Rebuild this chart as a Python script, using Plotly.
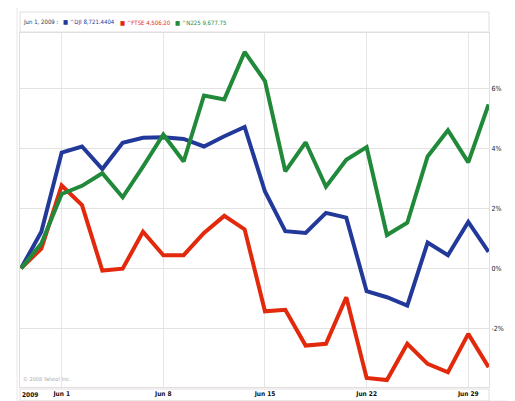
import plotly.graph_objects as go

# trading days shown on the chart (May 28 - Jun 30, 2009)
dates = ["May 28", "May 29",
         "Jun 1", "Jun 2", "Jun 3", "Jun 4", "Jun 5",
         "Jun 8", "Jun 9", "Jun 10", "Jun 11", "Jun 12",
         "Jun 15", "Jun 16", "Jun 17", "Jun 18", "Jun 19",
         "Jun 22", "Jun 23", "Jun 24", "Jun 25", "Jun 26",
         "Jun 29", "Jun 30"]

# % change since start
dji = [0.0, 1.22, 3.86, 4.06, 3.31, 4.18, 4.35, 4.37, 4.31, 4.06, 4.40, 4.71,
       2.56, 1.24, 1.18, 1.85, 1.69, -0.76, -0.96, -1.24, 0.86, 0.44, 1.55, 0.55]
ftse = [0.0, 0.66, 2.76, 2.11, -0.07, -0.01, 1.22, 0.44, 0.44, 1.18, 1.75, 1.30,
        -1.43, -1.38, -2.57, -2.51, -0.96, -3.65, -3.72, -2.51, -3.18, -3.46, -2.18, -3.29]
n225 = [0.0, 0.83, 2.48, 2.75, 3.17, 2.37, 3.39, 4.46, 3.56, 5.76, 5.63, 7.21,
        6.24, 3.23, 4.20, 2.72, 3.62, 4.04, 1.11, 1.52, 3.73, 4.60, 3.53, 5.46]

tick_dates = ["Jun 1", "Jun 8", "Jun 15", "Jun 22", "Jun 29"]
y_ticks = [-2, 0, 2, 4, 6]

names = ["^DJI", "^FTSE", "^N225"]
closes = ["8,721.4404", "4,506.20", "9,677.75"]
colors = ["#22399a", "#e2290c", "#21893a"]

fig = go.Figure()
for name, vals, col in zip(names, [dji, ftse, n225], colors):
    fig.add_trace(go.Scatter(x=dates, y=vals, mode="lines", name=name,
                             line=dict(color=col, width=4)))

font = "DejaVu Sans Condensed, Liberation Sans"

# the page body adds 8px around the figure, so margins are 8px smaller
fig.update_layout(
    width=515, height=401,
    margin=dict(l=12, r=34, t=25, b=22),
    paper_bgcolor="white", plot_bgcolor="white",
    showlegend=False,
    font=dict(family=font, size=7, color="#222"),
    xaxis=dict(type="category", range=[-0.05, 23.02], automargin=False,
               tickvals=tick_dates, ticktext=[f"<b>{d}</b>" for d in tick_dates],
               showgrid=True, gridcolor="#e6e6e6", gridwidth=1,
               showline=True, linecolor="#e2dede", mirror=True,
               zeroline=False, ticks="", ticklen=0,
               tickfont=dict(size=6.5, color="#111")),
    yaxis=dict(side="right", range=[-3.95, 7.84], automargin=False,
               tickvals=y_ticks, ticktext=[f"{v}%" for v in y_ticks],
               showgrid=True, gridcolor="#e2e2e2", gridwidth=1,
               showline=True, linecolor="#e2dede", mirror=True,
               zeroline=False, ticks="",
               tickfont=dict(size=7, color="#222")),
)

# frames around the chart, the legend strip and the date strip
def px_x(p):
    return (p - 20) / 469

def px_y(p):
    return (387 - p) / 354

fig.add_shape(type="rect", xref="paper", yref="paper",
              x0=px_x(17), x1=px_x(510), y0=px_y(401), y1=px_y(5),
              line=dict(color="#ebe6e8", width=1))
fig.add_shape(type="rect", xref="paper", yref="paper",
              x0=0, x1=1, y0=px_y(32), y1=px_y(12),
              line=dict(color="#e2dede", width=1))
fig.add_shape(type="rect", xref="paper", yref="paper",
              x0=0, x1=1, y0=px_y(401), y1=px_y(389),
              line=dict(color="#e2dede", width=1))

# year label at the start of the date strip
fig.add_annotation(x=px_x(20), y=px_y(395), xref="paper", yref="paper",
                   text="<b>2009</b>", showarrow=False, xanchor="left",
                   yanchor="middle", font=dict(size=6.5, color="#111"))

# legend line
fig.add_annotation(x=px_x(21), y=px_y(22), xref="paper", yref="paper",
                   text="Jun 1, 2009 :", showarrow=False, xanchor="left",
                   yanchor="middle", font=dict(size=6, color="#333"))
leg_x = [61, 118, 173]
for lx, name, close, col in zip(leg_x, names, closes, colors):
    fig.add_annotation(x=px_x(lx), y=px_y(22), xref="paper", yref="paper",
                       text=f"\u25a0 {name} {close}", showarrow=False,
                       xanchor="left", yanchor="middle",
                       font=dict(size=6, color=col))

fig.add_annotation(x=px_x(21), y=px_y(379), xref="paper", yref="paper",
                   text="\u00a9 2008 Yahoo! Inc.", showarrow=False,
                   xanchor="left", yanchor="middle",
                   font=dict(size=5.5, color="#aaa"))

fig.write_html("out.html")
